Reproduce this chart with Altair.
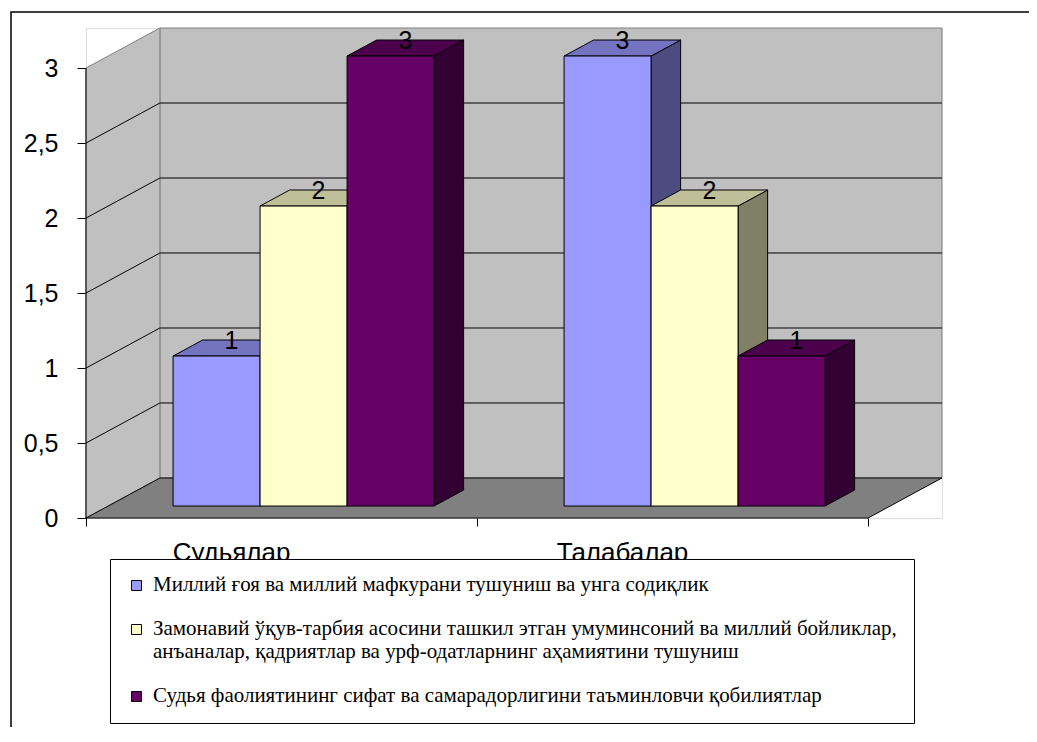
import altair as alt
import pandas as pd

# ---------------- data ----------------
categories = ["Судьялар", "Талабалар"]
series = [
    "Миллий ғоя ва миллий мафкурани тушуниш ва унга содиқлик",
    "Замонавий ўқув-тарбия асосини ташкил этган умуминсоний ва миллий бойликлар,\n анъаналар, қадриятлар ва урф-одатларнинг аҳамиятини тушуниш",
    "Судья фаолиятининг сифат ва самарадорлигини таъминловчи қобилиятлар",
]
values_sudyalar = [1, 2, 3]
values_talabalar = [3, 2, 1]
y_ticks = [0, 0.5, 1, 1.5, 2, 2.5, 3]

front_colors = ["#9999FF", "#FFFFCC", "#660066"]
top_colors = ["#7373BF", "#BFBF99", "#4C004C"]
side_colors = ["#4C4C80", "#808066", "#330033"]

# ---------------- pseudo-3D geometry (style constants) ----------------
DX = 0.189      # floor depth along x (category units)
DY = 0.267      # floor depth along y (value units)
F0, F1 = 0.3, 0.7   # bar depth span (fraction of floor depth)
GAP = 0.166     # gap before first bar of a group
BW = 0.2225     # bar width
YMAX = 3
NCAT = len(categories)

bdx = (F1 - F0) * DX
bdy = (F1 - F0) * DY
base = F0 * DY

all_values = [values_sudyalar, values_talabalar]

fronts, sides, tops, labels = [], [], [], []
for ci, cat in enumerate(categories):
    for si, s in enumerate(series):
        v = all_values[ci][si]
        x0 = ci + GAP + F0 * DX + si * BW
        x1 = x0 + BW
        top = base + v
        bid = f"{ci}-{si}"
        fronts.append(dict(series=s, x0=x0, x1=x1, base=base, top=top))
        sides += [
            dict(id=bid, x=x1, y=base, y2=top, fill=side_colors[si]),
            dict(id=bid, x=x1 + bdx, y=base + bdy, y2=top + bdy, fill=side_colors[si]),
        ]
        tops += [
            dict(id=bid, x=x0, y=top, y2=top, fill=top_colors[si]),
            dict(id=bid, x=x0 + bdx, y=top, y2=top + bdy, fill=top_colors[si]),
            dict(id=bid, x=x1, y=top, y2=top + bdy, fill=top_colors[si]),
            dict(id=bid, x=x1 + bdx, y=top + bdy, y2=top + bdy, fill=top_colors[si]),
        ]
        labels.append(dict(x=(x0 + x1) / 2 + bdx / 2, y=top + bdy / 2, text=str(v)))

fronts = pd.DataFrame(fronts)
sides = pd.DataFrame(sides)
tops = pd.DataFrame(tops)
labels = pd.DataFrame(labels)

left_wall = pd.DataFrame([
    dict(x=0, y=0, y2=YMAX),
    dict(x=DX, y=DY, y2=YMAX + DY),
])
back_wall = pd.DataFrame([dict(x=DX, x2=NCAT + DX, y=DY, y2=YMAX + DY)])
floor = pd.DataFrame([
    dict(x=0, y=0, y2=0),
    dict(x=DX, y=0, y2=DY),
    dict(x=NCAT, y=0, y2=DY),
    dict(x=NCAT + DX, y=DY, y2=DY),
])
grid = []
for v in y_ticks[1:-1]:
    grid += [
        dict(v=v, k=0, x=0, y=v),
        dict(v=v, k=1, x=DX, y=v + DY),
        dict(v=v, k=2, x=NCAT + DX, y=v + DY),
    ]
grid = pd.DataFrame(grid)
axis_line = pd.DataFrame([dict(x=0, y=0, y2=YMAX)])
cat_df = pd.DataFrame([dict(x=i + 0.5, cat=c) for i, c in enumerate(categories)])

# ---------------- scales ----------------
PX_X = 391
PX_Y = 150
W = (NCAT + DX) * PX_X
H = (YMAX + DY) * PX_Y
xs = alt.Scale(domain=[0, NCAT + DX], nice=False, zero=False)
ys = alt.Scale(domain=[0, YMAX + DY], nice=False, zero=False)

x_axis = alt.Axis(values=[0, 1, 2], labels=False, domain=False, grid=False,
                  tickSize=8, tickColor="black", title=None)
y_axis = alt.Axis(values=y_ticks, tickSize=9, tickColor="black", domain=False,
                  grid=False, labelFontSize=25, labelFont="Liberation Sans",
                  labelColor="black", labelPadding=19, title=None, format="~g",
                  labelExpr="replace(datum.label, '.', ',')")


def X(f):
    return alt.X(f, type="quantitative", scale=xs, axis=x_axis)


def Y(f):
    return alt.Y(f, type="quantitative", scale=ys, axis=y_axis, stack=None)


back = alt.Chart(back_wall).mark_rect(fill="#C0C0C0", stroke="#808080", strokeWidth=1).encode(
    x=X("x"), x2="x2:Q", y=Y("y"), y2="y2:Q")

lwall = alt.Chart(left_wall).mark_area(fill="#C0C0C0", stroke="#808080", strokeWidth=1).encode(
    x=X("x"), y=Y("y"), y2="y2:Q")

flr = alt.Chart(floor).mark_area(fill="#808080", stroke="black", strokeWidth=1).encode(
    x=X("x"), y=Y("y"), y2="y2:Q")

gridl = alt.Chart(grid).mark_line(color="black", strokeWidth=1).encode(
    x=X("x"), y=Y("y"), detail="v:N", order="k:Q")

axl = alt.Chart(axis_line).mark_rule(color="black", strokeWidth=1).encode(
    x=X("x"), y=Y("y"), y2="y2:Q")

side_l = alt.Chart(sides).mark_area(stroke="black", strokeWidth=1).encode(
    x=X("x"), y=Y("y"), y2="y2:Q", fill=alt.Fill("fill:N", scale=None),
    detail="id:N")

top_l = alt.Chart(tops).mark_area(stroke="black", strokeWidth=1).encode(
    x=X("x"), y=Y("y"), y2="y2:Q", fill=alt.Fill("fill:N", scale=None),
    detail="id:N")

front_l = alt.Chart(fronts).mark_rect(stroke="black", strokeWidth=1).encode(
    x=X("x0"), x2="x1:Q", y=Y("base"), y2="top:Q",
    color=alt.Color("series:N", scale=alt.Scale(domain=series, range=front_colors),
                    legend=alt.Legend(
                        orient="none", legendX=24, legendY=531, title=None,
                        symbolType="square", symbolSize=100,
                        symbolStrokeColor="black", symbolStrokeWidth=1,
                        labelFont="Liberation Serif", labelFontSize=21,
                        labelColor="black", labelLimit=1000,
                        labelExpr="split(datum.label, '\\n')",
                        fillColor="white", strokeColor="black",
                        padding=16, rowPadding=22, labelOffset=6)))

lab_l = alt.Chart(labels).mark_text(font="Liberation Sans", fontSize=25, color="black",
                                    baseline="middle", dy=-7).encode(
    x=X("x"), y=Y("y"), text="text:N")

cat_l = alt.Chart(cat_df).mark_text(font="Liberation Sans", fontSize=26, color="black",
                                    baseline="alphabetic", align="center", dx=-50).encode(
    x=X("x"), y=alt.value(533), text="cat:N")

frame = alt.Chart(axis_line).mark_rect(fillOpacity=0, stroke="black", strokeWidth=1.5).encode(
    x=alt.value(-75), x2=alt.value(1000), y=alt.value(-16), y2=alt.value(800))

chart = alt.layer(
    back, lwall, flr, gridl, axl, side_l, top_l, front_l, lab_l, cat_l, frame
).properties(
    width=W, height=H,
    autosize=alt.AutoSizeParams(type="none"),
    padding={"left": 78, "top": 20, "right": int(1021 - 78 - W), "bottom": int(720 - 20 - H)},
).configure_view(stroke=None).configure(background="white")

chart.save("out.html", embed_options={"renderer": "svg", "actions": False})
